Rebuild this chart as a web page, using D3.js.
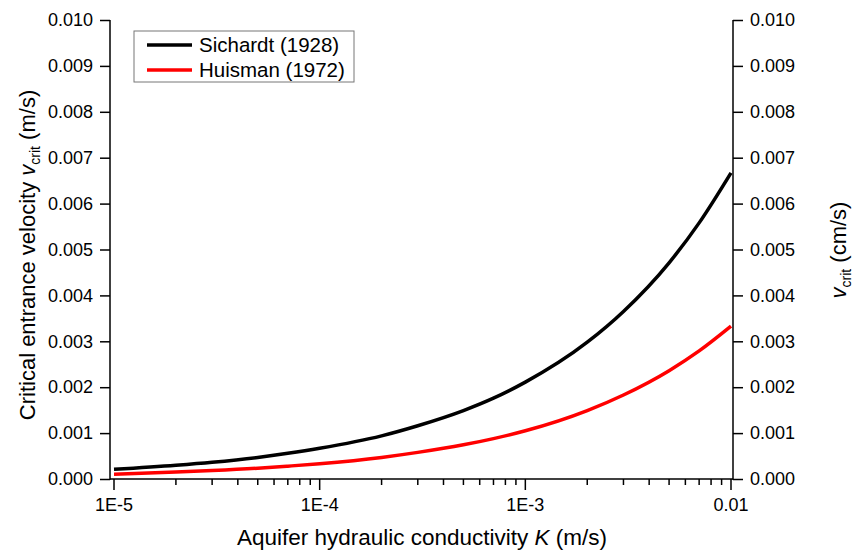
<!DOCTYPE html>
<html>
<head>
<meta charset="utf-8">
<script src="https://cdn.jsdelivr.net/npm/d3@7"></script>
<style>
	body { margin: 0; background: #fff; }
	svg { font-family: "Liberation Sans", Arial, sans-serif; }
	.axis path, .axis line { stroke: #000; stroke-width: 1.5; }
	.axis text { font-size: 18px; fill: #000; }
</style>
</head>
<body>
<script>
(function() {

"use strict";

// conductivity K (m/s)
const K = [1e-5, 2e-5, 3e-5, 5e-5, 7e-5, 1e-4, 2e-4, 3e-4, 5e-4, 7e-4, 1e-3, 2e-3, 3e-3, 5e-3, 7e-3, 1e-2];

const SICHARDT = [0.00021, 0.00030, 0.000365, 0.00047, 0.00056, 0.00067, 0.00094, 0.00116, 0.00149, 0.00176, 0.00211, 0.00298, 0.00365, 0.00471, 0.00558, 0.00667];
const HUISMAN  = [0.000105, 0.00015, 0.000183, 0.000235, 0.00028, 0.000333, 0.00047, 0.00058, 0.000745, 0.00088, 0.00105, 0.00149, 0.00183, 0.00236, 0.00279, 0.00333];

const SERIES = [
	{name: "Sichardt (1928)", color: "#000", values: SICHARDT},
	{name: "Huisman (1972)", color: "#f00", values: HUISMAN},
];

const X_TICKS = [1e-5, 1e-4, 1e-3, 1e-2];
const X_LABELS = ["1E-5", "1E-4", "1E-3", "0.01"];
const Y_TICKS = [0, 0.001, 0.002, 0.003, 0.004, 0.005, 0.006, 0.007, 0.008, 0.009, 0.010];

const width = 860, height = 550;
const plot = {left: 110, right: 733, top: 20, bottom: 479};

let svg = d3.select("body").append("svg")
	.attr("width", width)
	.attr("height", height);

let x = d3.scaleLog().domain([1e-5, 1e-2]).range([114, 731]);
let y = d3.scaleLinear().domain([0, 0.010]).range([plot.bottom, plot.top]);

// minor ticks 2..9 in every decade
let minor = [];
for (let d of X_TICKS.slice(0, -1))
	for (let m = 2; m <= 9; m++)
		minor.push(d * m);

let xAxis = svg.append("g")
	.attr("class", "axis x")
	.attr("transform", `translate(0, ${plot.bottom})`);

xAxis.append("line")
	.attr("x1", plot.left).attr("x2", plot.right);

xAxis.selectAll(".minor").data(minor).join("line")
	.attr("class", "minor")
	.attr("x1", d => x(d)).attr("x2", d => x(d))
	.attr("y1", 0).attr("y2", 6);

xAxis.selectAll(".major").data(X_TICKS).join("line")
	.attr("class", "major")
	.attr("x1", d => x(d)).attr("x2", d => x(d))
	.attr("y1", 0).attr("y2", 11);

xAxis.selectAll("text").data(X_TICKS).join("text")
	.attr("x", d => x(d))
	.attr("y", 32)
	.attr("text-anchor", "middle")
	.text((d, i) => X_LABELS[i]);

let fmt = d3.format(".3f");

svg.append("g")
	.attr("class", "axis y")
	.attr("transform", `translate(${plot.left}, 0)`)
	.call(d3.axisLeft(y).tickValues(Y_TICKS).tickFormat(fmt).tickSize(10).tickPadding(7).tickSizeOuter(0))
	.call(g => g.select(".domain").attr("d", `M0,${plot.bottom + 0.75}V${plot.top}`));

svg.append("g")
	.attr("class", "axis y2")
	.attr("transform", `translate(${plot.right}, 0)`)
	.call(d3.axisRight(y).tickValues(Y_TICKS).tickFormat(fmt).tickSize(10).tickPadding(7).tickSizeOuter(0))
	.call(g => g.select(".domain").attr("d", `M0,${plot.bottom + 0.75}V${plot.top}`));

let line = d3.line()
	.x(d => x(d[0]))
	.y(d => y(d[1]))
	.curve(d3.curveMonotoneX);

svg.append("g")
	.selectAll("path")
	.data(SERIES)
	.join("path")
		.attr("fill", "none")
		.attr("stroke", d => d.color)
		.attr("stroke-width", 3.5)
		.attr("d", d => line(K.map((k, i) => [k, d.values[i]])));

// legend
let legend = svg.append("g").attr("transform", "translate(134, 31)");
legend.append("rect")
	.attr("width", 220).attr("height", 51)
	.attr("fill", "#fff").attr("stroke", "#777").attr("stroke-width", 1);

let row = legend.selectAll(".row").data(SERIES).join("g")
	.attr("transform", (d, i) => `translate(0, ${14 + i * 25})`);
row.append("line")
	.attr("x1", 13).attr("x2", 58)
	.attr("stroke", d => d.color).attr("stroke-width", 3.5);
row.append("text")
	.attr("x", 65).attr("y", 7)
	.attr("font-size", 20.5)
	.text(d => d.name);

// axis titles
svg.append("text")
	.attr("x", 422).attr("y", 545)
	.attr("text-anchor", "middle")
	.attr("font-size", 22.5)
	.call(t => {
		t.append("tspan").text("Aquifer hydraulic conductivity ");
		t.append("tspan").attr("font-style", "italic").text("K");
		t.append("tspan").text(" (m/s)");
	});

svg.append("text")
	.attr("transform", "translate(35, 255) rotate(-90)")
	.attr("text-anchor", "middle")
	.attr("font-size", 22)
	.call(t => {
		t.append("tspan").text("Critical entrance velocity ");
		t.append("tspan").attr("font-style", "italic").text("v");
		t.append("tspan").attr("font-size", 14).attr("dy", 5).text("crit");
		t.append("tspan").attr("dy", -5).text(" (m/s)");
	});

svg.append("text")
	.attr("transform", "translate(846, 250) rotate(-90)")
	.attr("text-anchor", "middle")
	.attr("font-size", 22)
	.call(t => {
		t.append("tspan").attr("font-style", "italic").text("v");
		t.append("tspan").attr("font-size", 14).attr("dy", 5).text("crit");
		t.append("tspan").attr("dy", -5).text(" (cm/s)");
	});

})();
</script>
</body>
</html>
